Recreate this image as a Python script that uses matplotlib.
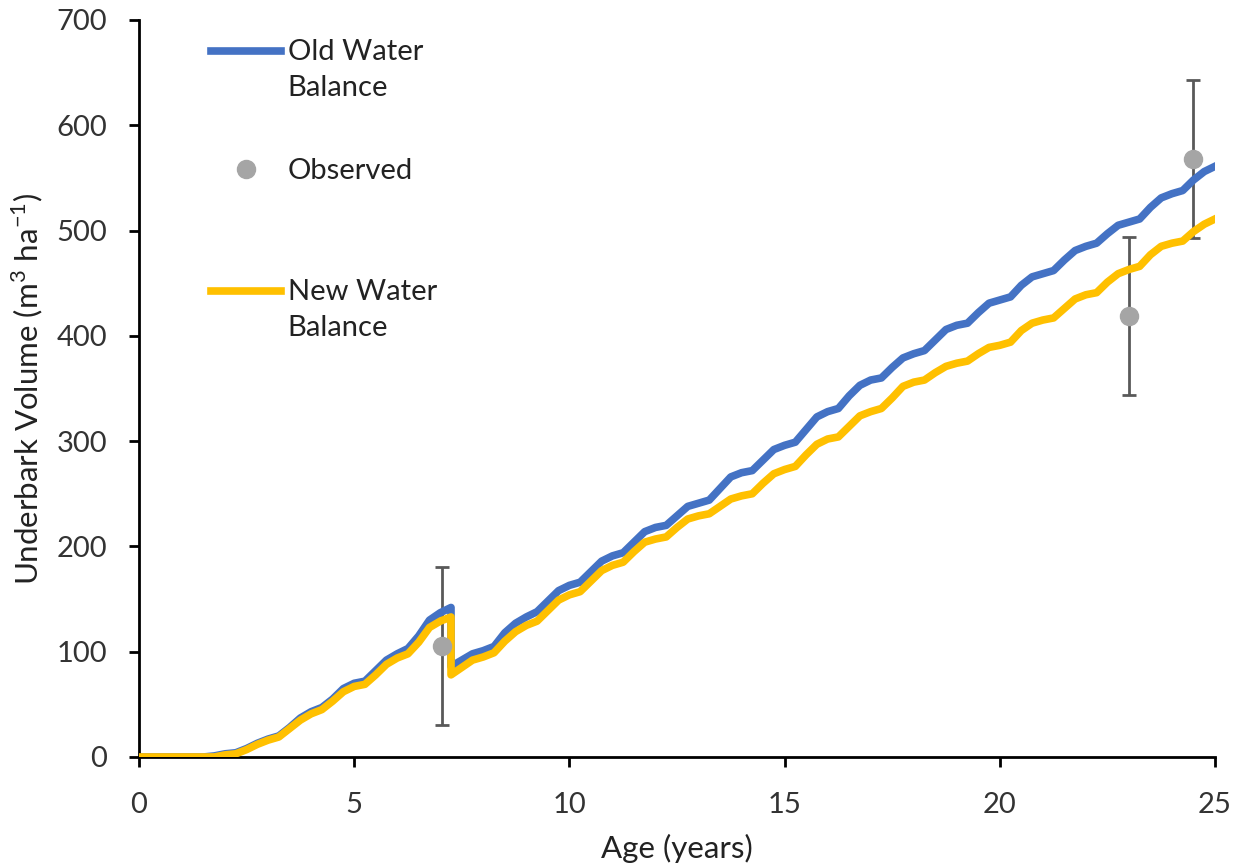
import numpy as np
import matplotlib
matplotlib.use('Agg')
import matplotlib.pyplot as plt
from matplotlib.lines import Line2D
from matplotlib.legend_handler import HandlerLine2D

plt.rcParams['font.family'] = ['Lato', 'DejaVu Sans']
plt.rcParams['mathtext.fontset'] = 'custom'
plt.rcParams['mathtext.rm'] = 'Lato'

# age grid in years (quarter steps, thinning at 7.25 appears twice)
age = list(np.arange(0, 7.26, 0.25)) + list(np.arange(7.25, 25.01, 0.25))

# Old water balance, underbark volume (m3/ha)
old_wb = [0, 0, 0, 0, 0, 0, 0, 1, 3, 4, 8, 13, 17, 20, 28, 37, 43, 47, 55, 65,
          70, 72, 82, 92, 98, 103, 115, 130, 137, 142,
          86, 92, 98, 101, 105, 118, 127, 133, 138, 148, 158, 163, 166, 176, 186,
          191, 194, 204, 214, 218, 220, 229, 238, 241, 244, 255, 266, 270, 272,
          282, 292, 296, 299, 311, 323, 328, 331, 343, 353, 358, 360, 370, 379,
          383, 386, 396, 406, 410, 412, 422, 431, 434, 437, 448, 456, 459, 462,
          472, 481, 485, 488, 497, 505, 508, 511, 522, 531, 535, 538, 548, 556, 561]

# New water balance
new_wb = [0, 0, 0, 0, 0, 0, 0, 0, 2, 3, 7, 12, 16, 19, 27, 35, 41, 45, 53, 62,
          67, 69, 78, 88, 94, 98, 109, 123, 129, 133,
          78, 85, 92, 95, 99, 110, 119, 125, 129, 139, 149, 154, 157, 167, 177,
          182, 185, 195, 204, 207, 209, 218, 226, 229, 231, 238, 245, 248, 250,
          260, 269, 273, 276, 287, 297, 302, 304, 314, 324, 328, 331, 341, 352,
          356, 358, 365, 371, 374, 376, 383, 389, 391, 394, 405, 412, 415, 417,
          426, 435, 439, 441, 451, 459, 463, 466, 477, 485, 488, 490, 499, 506, 511]

# observed plots with error
obs_age = [7.05, 23.0, 24.5]
obs_vol = [105, 419, 568]
obs_err = [75, 75, 75]

blue = '#4472C4'
gold = '#FFC000'
grey = '#A5A5A5'
FS = 21
LSPACE = 1.5


class TopLineHandler(HandlerLine2D):
    # put the legend line level with the first line of a two-line label
    def create_artists(self, legend, orig_handle, xdescent, ydescent, width,
                       height, fontsize, trans):
        arts = super().create_artists(legend, orig_handle, xdescent, ydescent,
                                      width, height, fontsize, trans)
        for a in arts:
            a.set_ydata(np.asarray(a.get_ydata()) + 0.67 * fontsize)
        return arts


fig = plt.figure(figsize=(12.33, 8.68), dpi=100)
ax = fig.add_axes([0.1127, 0.1279, 0.8727, 0.8491])

ax.errorbar(obs_age, obs_vol, yerr=obs_err, fmt='none', ecolor='#595959',
            elinewidth=2, capsize=5, capthick=2, zorder=1)
ax.plot(age, old_wb, color=blue, lw=5.5, solid_joinstyle='round', zorder=2)
ax.plot(age, new_wb, color=gold, lw=5.5, solid_joinstyle='round', zorder=3)
ax.plot(obs_age, obs_vol, 'o', color=grey, ms=13, zorder=4)

ax.set_xlim(0, 25)
ax.set_ylim(0, 700)
ax.set_xticks([0, 5, 10, 15, 20, 25])
ax.set_yticks(np.arange(0, 701, 100))
for s in ['top', 'right']:
    ax.spines[s].set_visible(False)
for s in ['left', 'bottom']:
    ax.spines[s].set_linewidth(2)
ax.tick_params(axis='both', labelsize=FS, length=7, width=2, colors='black',
               labelcolor='#333333')
ax.tick_params(axis='y', pad=16)
ax.tick_params(axis='x', pad=18)

ax.set_xlabel('Age (years)', fontsize=22.5, labelpad=12, color='#222222')
ax.set_ylabel(r'Underbark Volume (m$^{3}$ ha$^{\mathregular{-1}}$)', fontsize=22.5,
              labelpad=8, color='#222222')

h_old = Line2D([], [], color=blue, lw=5.5)
h_obs = Line2D([], [], color=grey, marker='o', ms=13, lw=0)
h_new = Line2D([], [], color=gold, lw=5.5)

leg1 = ax.legend([h_old, h_obs], ['Old Water\nBalance', 'Observed'],
                 loc='upper left', bbox_to_anchor=(0.053, 0.9945), frameon=False,
                 fontsize=FS, handlelength=2.4, handletextpad=0.25,
                 labelspacing=1.95, borderpad=0, labelcolor='#222222',
                 handler_map={h_old: TopLineHandler()})
for t in leg1.get_texts():
    t.set_linespacing(LSPACE)
ax.add_artist(leg1)
leg2 = ax.legend([h_new], ['New Water\nBalance'], loc='upper left',
                 bbox_to_anchor=(0.053, 0.6685), frameon=False, fontsize=FS,
                 handlelength=2.4, handletextpad=0.25, borderpad=0,
                 labelcolor='#222222', handler_map={h_new: TopLineHandler()})
for t in leg2.get_texts():
    t.set_linespacing(LSPACE)

fig.savefig('out.png', dpi=100)
